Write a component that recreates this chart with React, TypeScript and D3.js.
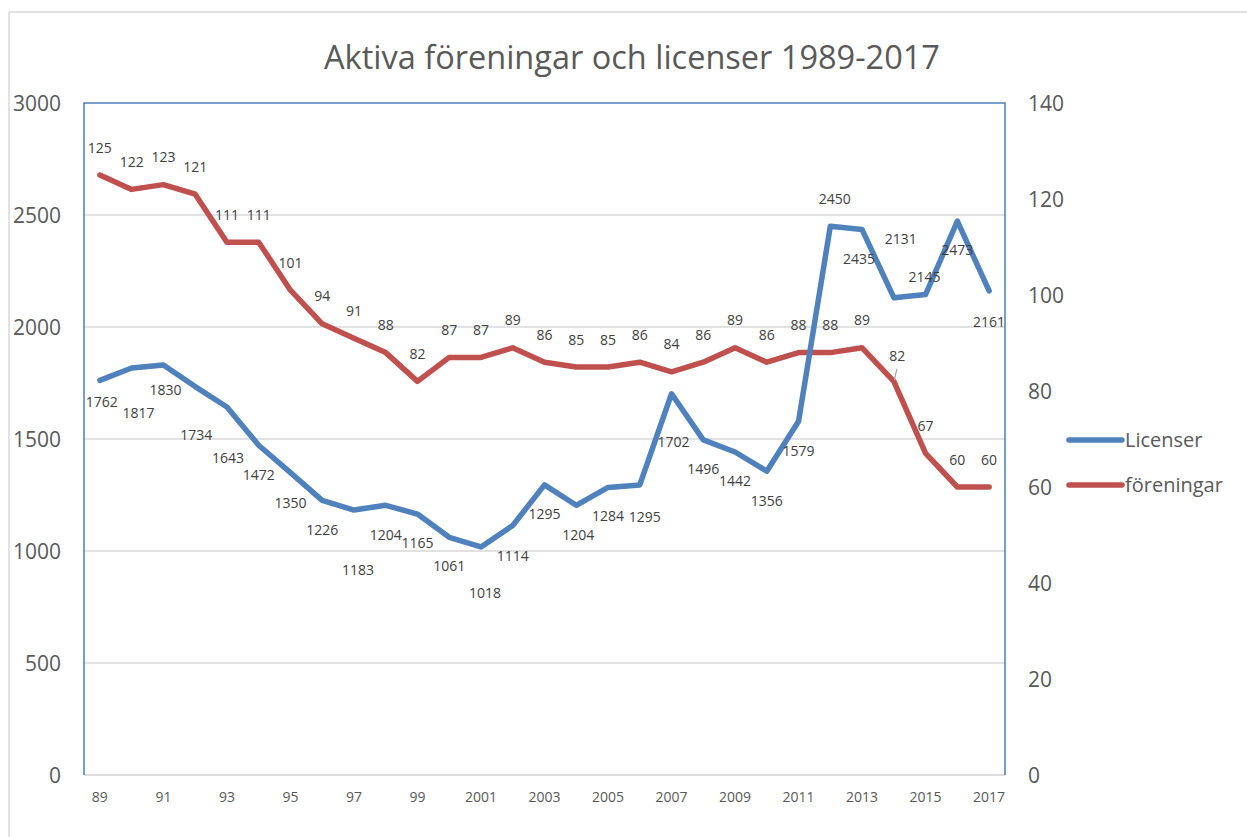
import React from "react";
import * as d3 from "d3";

const years = [
  "89", "90", "91", "92", "93", "94", "95", "96", "97", "98", "99",
  "2000", "2001", "2002", "2003", "2004", "2005", "2006", "2007", "2008",
  "2009", "2010", "2011", "2012", "2013", "2014", "2015", "2016", "2017",
];
const licenser = [
  1762, 1817, 1830, 1734, 1643, 1472, 1350, 1226, 1183, 1204, 1165, 1061,
  1018, 1114, 1295, 1204, 1284, 1295, 1702, 1496, 1442, 1356, 1579, 2450,
  2435, 2131, 2145, 2473, 2161,
];
const foreningar = [
  125, 122, 123, 121, 111, 111, 101, 94, 91, 88, 82, 87, 87, 89, 86, 85, 85,
  86, 84, 86, 89, 86, 88, 88, 89, 82, 67, 60, 60,
];
const leftTicks = [0, 500, 1000, 1500, 2000, 2500, 3000];
const rightTicks = [0, 20, 40, 60, 80, 100, 120, 140];

// label offsets (style) for Licenser data labels
const licLabelDx = [2, 7, 2, 1, 1, 0, 0, 0, 4, 0, 0, 0, 4, 0, 0, 2, 0, 5, 2, 0, 0, 0, 0, 4.5, -3, 7, -1, 0, 0];
const licLabelDy = [22, 45, 25, 48, 51, 30, 30, 30, 60, 30, 29, 29, 46, 30, 29, 30, 29, 32, 48, 29, 29, 30, 30, -27, 29, -59, -18, 29, 31];

const W = 1247;
const H = 837;
const plot = { left: 84, right: 1005, top: 103, bottom: 775 };
const BLUE = "#4F81BD";
const RED = "#C0504D";
const FONT = "'Open Sans', sans-serif";

export default function App() {
  const x = d3
    .scaleBand<string>()
    .domain(years)
    .range([plot.left, plot.right])
    .padding(0);
  const cx = (i: number) => (x(years[i]) as number) + x.bandwidth() / 2;
  const yL = d3.scaleLinear().domain([0, 3000]).range([plot.bottom, plot.top]);
  const yR = d3.scaleLinear().domain([0, 140]).range([plot.bottom, plot.top]);

  const lineL = d3
    .line<number>()
    .x((_, i) => cx(i))
    .y((d) => yL(d));
  const lineR = d3
    .line<number>()
    .x((_, i) => cx(i))
    .y((d) => yR(d));

  return (
    <svg
      width={W}
      height={H}
      style={{ position: "absolute", left: 0, top: 0, background: "#fff" }}
      fontFamily={FONT}
    >
      {/* outer chart border */}
      <line x1={9} y1={12} x2={W} y2={12} stroke="#d9d9d9" strokeWidth={1.5} />
      <line x1={9} y1={12} x2={9} y2={H} stroke="#d9d9d9" strokeWidth={1.5} />

      {/* title */}
      <text x={632} y={69} textAnchor="middle" fontSize={32.5} fill="#595959">
        Aktiva föreningar och licenser 1989-2017
      </text>

      {/* gridlines */}
      {leftTicks.slice(1, -1).map((t) => (
        <line
          key={t}
          x1={plot.left}
          x2={plot.right}
          y1={yL(t)}
          y2={yL(t)}
          stroke="#d9d9d9"
          strokeWidth={1.5}
        />
      ))}
      {/* bottom axis */}
      <line
        x1={plot.left}
        x2={plot.right}
        y1={plot.bottom}
        y2={plot.bottom}
        stroke="#d0d0d0"
        strokeWidth={1.5}
      />
      {/* plot frame blue */}
      <path
        d={`M${plot.left},${plot.bottom}V${plot.top}H${plot.right}V${plot.bottom}`}
        fill="none"
        stroke="#4a7ebb"
        strokeWidth={1.5}
      />

      {/* left axis labels */}
      {leftTicks.map((t) => (
        <text
          key={t}
          x={61}
          y={yL(t)}
          dy="0.36em"
          textAnchor="end"
          fontSize={21}
          fill="#595959"
        >
          {t}
        </text>
      ))}
      {/* right axis labels */}
      {rightTicks.map((t) => (
        <text
          key={t}
          x={1028}
          y={yR(t)}
          dy="0.36em"
          textAnchor="start"
          fontSize={21}
          fill="#595959"
        >
          {t}
        </text>
      ))}
      {/* x tick labels */}
      {years.map((yv, i) =>
        i % 2 === 0 ? (
          <text
            key={yv}
            x={cx(i)}
            y={797}
            dy="0.36em"
            textAnchor="middle"
            fontSize={14}
            fill="#595959"
          >
            {yv}
          </text>
        ) : null
      )}

      {/* lines */}
      <path
        d={lineR(foreningar) || ""}
        fill="none"
        stroke={RED}
        strokeWidth={5.5}
        strokeLinejoin="round"
        strokeLinecap="round"
      />
      <path
        d={lineL(licenser) || ""}
        fill="none"
        stroke={BLUE}
        strokeWidth={5.5}
        strokeLinejoin="round"
        strokeLinecap="round"
      />

      {/* föreningar labels */}
      {foreningar.map((v, i) => {
        const moved = i === 25;
        const lx = cx(i) + (moved ? 3.5 : 0);
        const ly = yR(v) + (moved ? -25.5 : -27.5);
        return (
          <g key={"f" + i}>
            {moved && (
              <line
                x1={lx - 0.5}
                y1={ly + 13}
                x2={cx(i) + 0.5}
                y2={yR(v) - 1}
                stroke="#a6a6a6"
                strokeWidth={1.2}
              />
            )}
            <text
              x={lx}
              y={ly}
              dy="0.36em"
              textAnchor="middle"
              fontSize={14}
              fill="#404040"
            >
              {v}
            </text>
          </g>
        );
      })}
      {/* licenser labels */}
      {licenser.map((v, i) => (
        <text
          key={"l" + i}
          x={cx(i) + licLabelDx[i]}
          y={yL(v) + licLabelDy[i]}
          dy="0.36em"
          textAnchor="middle"
          fontSize={14}
          fill="#404040"
        >
          {v}
        </text>
      ))}

      {/* legend */}
      <line x1={1069} x2={1122} y1={440} y2={440} stroke={BLUE} strokeWidth={5.5} strokeLinecap="round" />
      <text x={1125} y={440} dy="0.36em" fontSize={20} fill="#595959">
        Licenser
      </text>
      <line x1={1069} x2={1122} y1={485} y2={485} stroke={RED} strokeWidth={5.5} strokeLinecap="round" />
      <text x={1125} y={485} dy="0.36em" fontSize={20} fill="#595959">
        föreningar
      </text>
    </svg>
  );
}
